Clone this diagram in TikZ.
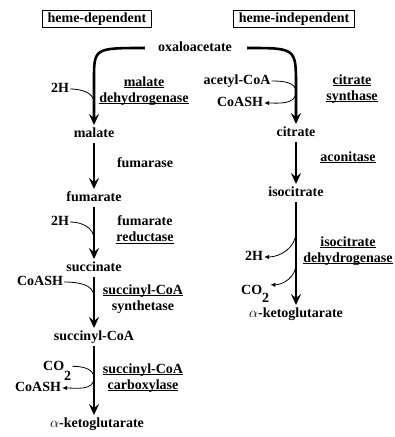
\documentclass[tikz,border=0pt]{standalone}
\usepackage{fontspec}
\setmainfont{Liberation Serif}
\usetikzlibrary{positioning, arrows.meta, calc}
\newcommand{\enzu}[1]{\underline{\smash{#1}}\vphantom{Ay}}
\tikzset{
  marr/.style={-{Stealth[length=11pt,width=10pt,inset=4pt]}, line width=2.6pt, draw=black},
  sarr/.style={-{Latex[length=5pt,width=4.5pt]}, line width=0.8pt, draw=black},
  met/.style={inner sep=3pt, text height=9pt, text depth=2.5pt},
  sub/.style={inner sep=1pt, text height=9pt, text depth=2.5pt},
  enz/.style={align=center, inner sep=1pt},
  hdr/.style={draw, line width=1.1pt, inner xsep=5pt, inner ysep=3pt, text height=9pt, text depth=2.5pt}
}

\begin{document}
\begin{tikzpicture}[x=1pt, y=-1pt, font=\fontsize{14}{16}\selectfont\bfseries]
\useasboundingbox (0,0) rectangle (395,437);
\node[hdr] (hdep) at (97,19) {heme-dependent};
\node[hdr] (hind) at (294,19) {heme-independent};
\node[met] (oxa) at (195,48) {oxaloacetate};
% heme-dependent branch
\node[met] (mal)  at (94,134) {malate};
\node[met] (fum)  at (94,198) {fumarate};
\node[met] (suc)  at (94,268) {succinate};
\node[met] (scoa) at (94,337) {succinyl-CoA};
\node[met] (akgl) at (97,424) {$\alpha$-ketoglutarate};
\node[sub] (h1) at (60,89) {2H};
\node[sub] (h2) at (60,222) {2H};
\node[sub] (c1) at (40,282) {CoASH};
\node[sub, anchor=base west] (co1) at (42,370) {CO\raisebox{-10pt}{2}};
\node[sub] (c2) at (38,388) {CoASH};
\node[enz] (mdh) at (144,91) {\enzu{malate}\\\enzu{dehydrogenase}};
\node[enz] (fh)  at (145,163) {fumarase};
\node[enz] (frd) at (145,230) {fumarate\\\enzu{reductase}};
\node[enz] (scs) at (143,299) {\enzu{succinyl-CoA}\\synthetase};
\node[enz] (scc) at (143,378) {\enzu{succinyl-CoA}\\\enzu{carboxylase}};
% heme-independent branch
\node[met] (cit)  at (296,133) {citrate};
\node[met] (icit) at (296,193) {isocitrate};
\node[met] (akgr) at (296,314) {$\alpha$-ketoglutarate};
\node[sub] (acoa) at (237,81) {acetyl-CoA};
\node[sub] (c3) at (240,103) {CoASH};
\node[sub] (h3) at (254,257) {2H};
\node[sub, anchor=base west] (co2) at (240,294) {CO\raisebox{-8.5pt}{2}};
\node[enz] (cs)  at (352,89) {\enzu{citrate}\\\enzu{synthase}};
\node[enz] (acn) at (348,158) {\enzu{aconitase}};
\node[enz] (idh) at (348,251) {\enzu{isocitrate}\\\enzu{dehydrogenase}};

\draw[marr] ($(oxa.west)+(-10,0)$) .. controls (oxa.west -| mal.north) .. ($(mal.north)+(0,-45)$) -- (mal.north);
\draw[marr] (mal) -- (fum);
\draw[marr] (fum) -- (suc);
\draw[marr] (suc) -- (scoa);
\draw[marr] (scoa.south) -- (scoa.south |- akgl.north);
\draw[marr] ($(oxa.east)+(12,0)$) .. controls (oxa.east -| cit.north) .. ($(cit.north)+(0,-38)$) -- (cit.north);
\draw[marr] (cit) -- (icit);
\draw[marr] (icit) -- (akgr);

\draw[line width=0.8pt] (h1.east) to[out=0, in=90] ($(mal.north)+(0,-22)$);
\draw[line width=0.8pt] (h2.east) to[out=0, in=90] ($(suc.north)+(0,-20)$);
\draw[line width=0.8pt] (c1.east) to[out=0, in=90] ($(suc.south)+(0,20)$);
\draw[sarr] ($(co1.north east)+(0,6.5)$) to[out=0, in=90] ($(scoa.south)+(0,32)$) to[out=-90, in=0] (c2.east);
\draw[sarr] (acoa.east) to[out=0, in=90] ($(cit.north)+(0,-32)$) to[out=-90, in=0] (c3.east);
\draw[sarr] ($(icit.south)+(0,30)$) to[out=-90, in=0] (h3.east);
\draw[sarr] ($(icit.south)+(0,62)$) to[out=-90, in=0] ($(co2.north east)+(0,1)$);
\end{tikzpicture}
\end{document}
